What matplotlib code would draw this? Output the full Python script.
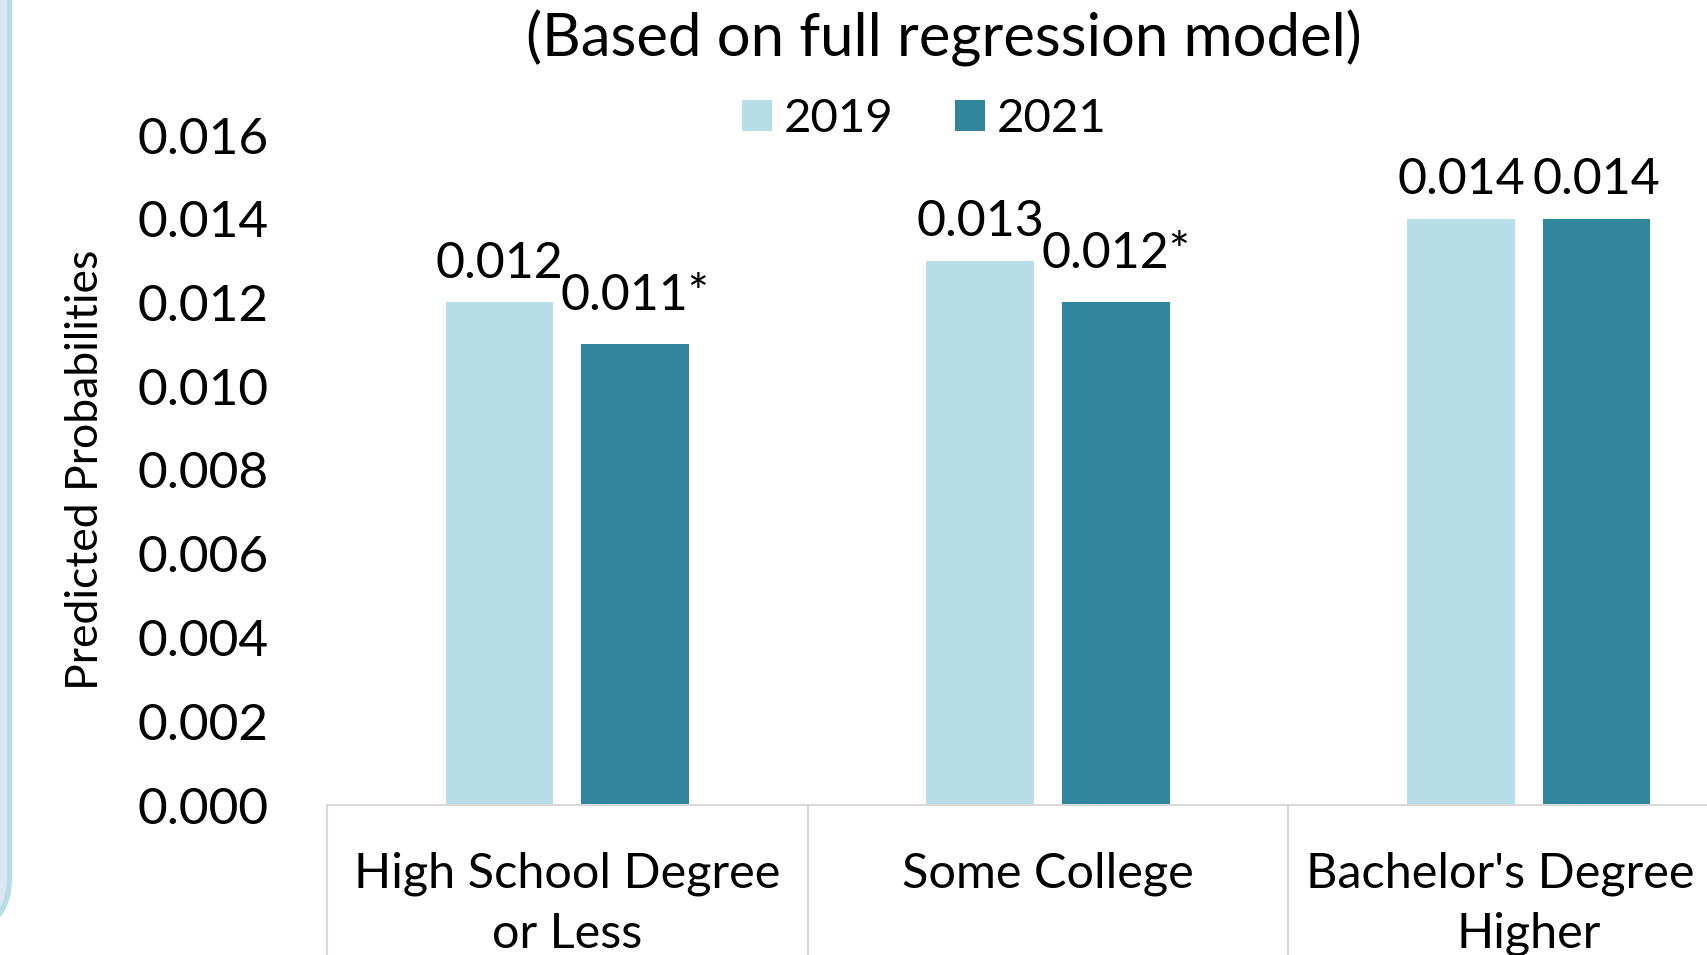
import matplotlib
matplotlib.use('Agg')
import matplotlib.pyplot as plt
import numpy as np
from matplotlib.patches import FancyBboxPatch, Patch
from matplotlib.transforms import IdentityTransform, blended_transform_factory

plt.rcParams['font.family'] = ['Lato', 'DejaVu Sans']

# data
categories = ["High School Degree\nor Less", "Some College", "Bachelor's Degree or\nHigher"]
years = ["2019", "2021"]
values_2019 = [0.012, 0.013, 0.014]
values_2021 = [0.011, 0.012, 0.014]
labels_2019 = ["0.012", "0.013", "0.014"]
labels_2021 = ["0.011*", "0.012*", "0.014"]
y_ticks = [0.000, 0.002, 0.004, 0.006, 0.008, 0.010, 0.012, 0.014, 0.016]

LIGHT = '#B7DEE8'
DARK = '#31859C'
GRID = '#D9D9D9'
W, H = 1707, 955

fig = plt.figure(figsize=(W / 100, H / 100), dpi=100)

# edge of the neighbouring rounded panel on the left
panel = FancyBboxPatch((-400, 23), 409.5, 1200, boxstyle="round,pad=0,rounding_size=55",
                       facecolor='#DCE6F1', edgecolor=LIGHT, linewidth=3.8,
                       transform=IdentityTransform())
fig.patches.append(panel)

ax = fig.add_axes([327 / W, 150 / H, (1769 - 327) / W, (820 - 150) / H])

x = np.arange(len(categories))
width = 0.224
offset = 0.141
b1 = ax.bar(x - offset, values_2019, width, color=LIGHT)
b2 = ax.bar(x + offset, values_2021, width, color=DARK)

for bars, labs in [(b1, labels_2019), (b2, labels_2021)]:
    for rect, lab in zip(bars, labs):
        # starred labels sit a little higher in the original
        dy = 25 if lab.endswith('*') else 18
        ax.annotate(lab, (rect.get_x() + rect.get_width() / 2, rect.get_height()),
                    xytext=(0, dy), textcoords='offset points',
                    ha='center', va='baseline', fontsize=36)

ax.set_xlim(-0.5, 2.5)
ax.set_ylim(0, 0.016)
ax.set_yticks(y_ticks)
ax.set_yticklabels([f'{v:.3f}' for v in y_ticks], fontsize=37)
ax.tick_params(axis='y', length=0, pad=42)
ax.set_xticks([])

for s in ['top', 'right', 'left']:
    ax.spines[s].set_visible(False)
ax.spines['bottom'].set_color(GRID)
ax.spines['bottom'].set_linewidth(1.5)

# category separators below the axis
trans = blended_transform_factory(ax.transData, ax.transAxes)
for xb in np.arange(-0.5, len(categories), 1.0):
    ax.plot([xb, xb], [0, -0.3], color=GRID, linewidth=1.5, transform=trans, clip_on=False)

for i, cat in enumerate(categories):
    ax.text(i, -0.07, cat, transform=trans, ha='center', va='top',
            fontsize=35, linespacing=1.43)

# legend and title
handles = [Patch(facecolor=LIGHT), Patch(facecolor=DARK)]
fig.legend(handles, years, loc='center', bbox_to_anchor=(924 / W, 1 - 119 / H),
           ncol=2, frameon=False, fontsize=34, handlelength=0.64, handleheight=0.64,
           handletextpad=0.25, columnspacing=1.3)

fig.text(944 / W, 1 - 38 / H, "(Based on full regression model)", ha='center', va='center',
         fontsize=43)
fig.text(86 / W, 1 - 470 / H, "Predicted Probabilities", rotation=90,
         ha='center', va='center', fontsize=32)

plt.savefig('out.png', dpi=100)
plt.close(fig)
